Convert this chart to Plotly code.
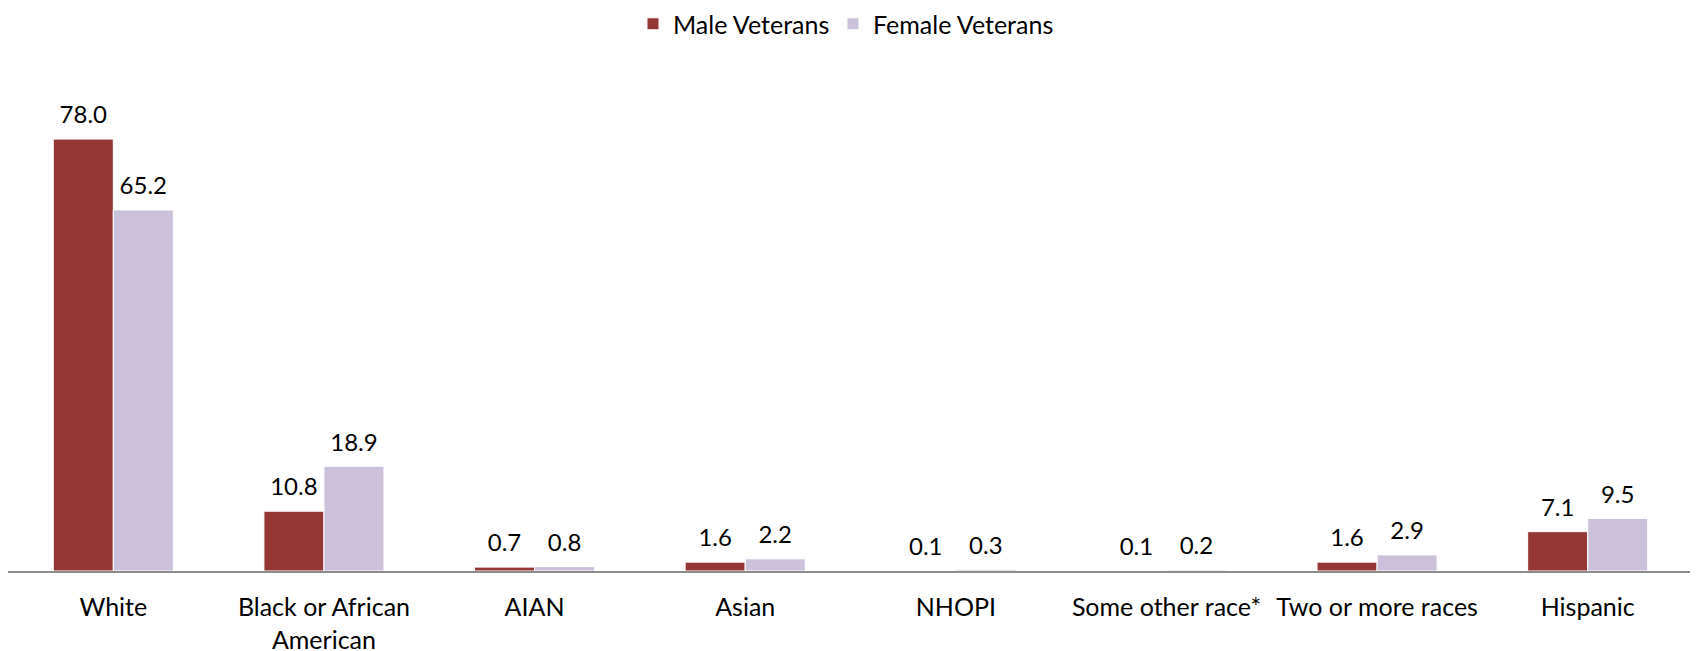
import plotly.graph_objects as go

categories = ["White", "Black or African<br>American", "AIAN", "Asian", "NHOPI",
              "Some other race*", "Two or more races", "Hispanic"]
male_values = [78.0, 10.8, 0.7, 1.6, 0.1, 0.1, 1.6, 7.1]
female_values = [65.2, 18.9, 0.8, 2.2, 0.3, 0.2, 2.9, 9.5]
series_names = ["Male Veterans", "Female Veterans"]

FONT = "Lato, Open Sans, sans-serif"
GAP = 0.43

fig = go.Figure()
specs = [(series_names[0], male_values, "#943634", "m", "legend"),
         (series_names[1], female_values, "#CCC1DA", "f", "legend2")]
for name, vals, color, grp, leg in specs:
    fig.add_trace(go.Bar(
        x=categories, y=vals, name=name, offsetgroup=grp, legend=leg,
        marker=dict(color=color, line=dict(color="white", width=1)),
    ))
for name, vals, color, grp, leg in specs:
    fig.add_trace(go.Scatter(
        x=categories, y=vals, mode="markers+text", offsetgroup=grp,
        marker=dict(size=14, opacity=0, color=color),
        text=[f"{v:.1f}" for v in vals], textposition="top center",
        textfont=dict(family=FONT, size=24, color="#000"),
        showlegend=False, hoverinfo="skip", cliponaxis=False,
    ))

leg_common = dict(orientation="h", xanchor="left", xref="container",
                  y=1 - 16 / 651, yanchor="middle", yref="container",
                  font=dict(size=25), bgcolor="rgba(0,0,0,0)")

fig.update_layout(
    width=1698, height=651,
    margin=dict(l=0, r=13, t=120, b=88, autoexpand=False),
    paper_bgcolor="white", plot_bgcolor="white",
    barmode="group", bargap=GAP, bargroupgap=0,
    scattermode="group", scattergap=GAP,
    font=dict(family=FONT, size=25, color="#000"),
    legend=dict(x=625 / 1698, **leg_common),
    legend2=dict(x=825 / 1698, **leg_common),
    xaxis=dict(showline=True, linecolor="#8c8c8c", linewidth=2, ticks="",
               ticklabelstandoff=13, tickfont=dict(size=25), automargin=False),
    yaxis=dict(range=[0, 80], visible=False, showgrid=False, zeroline=False,
               automargin=False),
)
fig.write_html("out.html")
